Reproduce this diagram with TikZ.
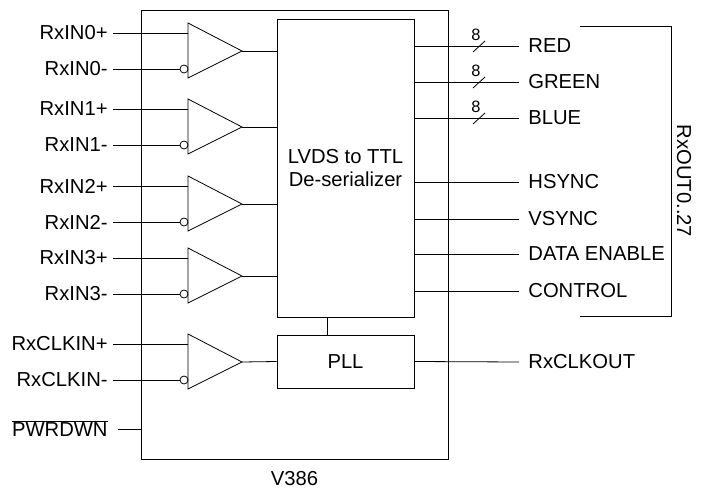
\documentclass[tikz,border=0pt]{standalone}
\usepackage{fontspec}
\setmainfont{Liberation Sans}
\usetikzlibrary{positioning, calc}

\tikzset{
  pinlabel/.style={font=\fontsize{20.3}{23}\selectfont, inner sep=0pt},
  buswidth/.style={font=\fontsize{16.5}{18}\selectfont, inner sep=0pt},
  blockbox/.style={draw, font=\fontsize{20.3}{23}\selectfont, align=center, inner sep=0pt}
}

\begin{document}
\begin{tikzpicture}[x=1bp, y=-1bp, line width=0.8bp]
\useasboundingbox (0,0) rectangle (703,491);
% chip outline
\draw (141,10) rectangle (448,459);
\node[pinlabel] (chipname) at (294.5,479) {V386};
% deserializer and PLL
\node[blockbox, minimum width=137bp, minimum height=298bp] (deser) at (345.5,168) {LVDS to TTL\\De-serializer};
\node[blockbox, minimum width=137bp, minimum height=53bp] (pll) at (345.5,361.5) {PLL};
\draw ([xshift=-18.5bp]deser.south) -- ([xshift=-18.5bp]pll.north);
% LVDS receivers
\foreach \i/\y in {0/51,1/127,2/204,3/276}{
  \draw (188,\y-28) -- (242,\y) -- (188,\y+27) -- cycle;
  \coordinate (buf\i) at (242,\y);
  \coordinate (bufp\i) at (188,\y-18);
  \coordinate (bufn\i) at (180,\y+18);
  \draw (184,\y+18) circle (4bp);
  \node[pinlabel, anchor=east] (inp\i) at (108,\y-18) {RxIN\i+};
  \node[pinlabel, anchor=east] (inn\i) at (108,\y+18) {RxIN\i-};
  \draw ([xshift=5bp]inp\i.east) -- (bufp\i);
  \draw ([xshift=5bp]inn\i.east) -- (bufn\i);
  \draw (buf\i) -- (buf\i -| deser.west);
}
% clock receiver
\draw (188,334) -- (242,362) -- (188,389) -- cycle;
\coordinate (bufclk) at (242,362);
\coordinate (bufclkp) at (188,344);
\coordinate (bufclkn) at (180,380);
\draw (184,380) circle (4bp);
\node[pinlabel, anchor=east] (clkp) at (108,344) {RxCLKIN+};
\node[pinlabel, anchor=east] (clkn) at (108,380) {RxCLKIN-};
\draw ([xshift=5bp]clkp.east) -- (bufclkp);
\draw ([xshift=5bp]clkn.east) -- (bufclkn);
\draw (bufclk) -- (pll.west);
% power down
\node[pinlabel, anchor=east] (pwrdwn) at (108,429) {$\overline{\hbox{PWRDWN}}$};
\draw ([xshift=10bp]pwrdwn.east) -- (141,429);
% outputs
\foreach \sig/\y in {RED/46,GREEN/82,BLUE/118,HSYNC/182,VSYNC/219,DATA ENABLE/254,CONTROL/291}{
  \node[pinlabel, anchor=west] (out\y) at (528,\y) {\sig};
  \draw (deser.east |- out\y) -- ([xshift=-9bp]out\y.west);
}
\foreach \y in {46,82,118}{
  \draw (473,\y+6) -- (485,\y-5);
  \node[buswidth] at (476,\y-11) {8};
}
\node[pinlabel, anchor=west] (clkout) at (528,362) {RxCLKOUT};
\draw (pll.east) -- ([xshift=-9bp]clkout.west);
% output bracket
\draw (580,26) -- (671,26) -- (671,316) -- (580,316);
\node[pinlabel, rotate=-90] (rxout) at (684,181) {RxOUT0..27};
\end{tikzpicture}
\end{document}
